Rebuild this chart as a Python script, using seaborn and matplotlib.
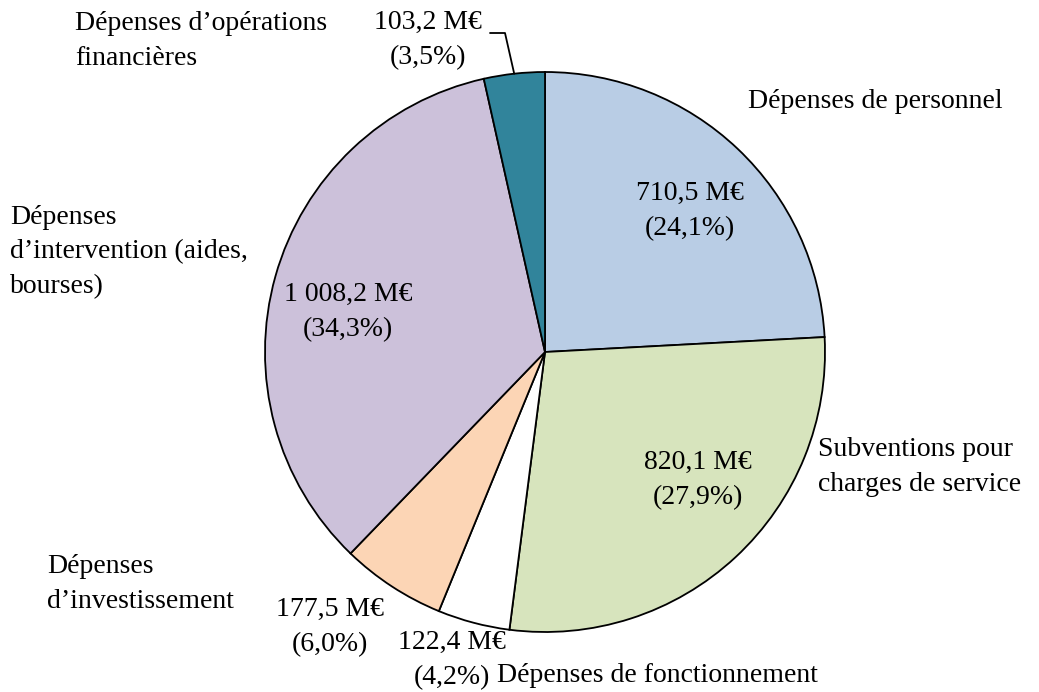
import numpy as np
import matplotlib
matplotlib.use("Agg")
import matplotlib.pyplot as plt
import seaborn as sns

categories = ["Dépenses de personnel", "Subventions pour\ncharges de service",
              "Dépenses de fonctionnement", "Dépenses\nd’investissement",
              "Dépenses\nd’intervention (aides,\nbourses)", "Dépenses d’opérations\nfinancières"]
values = [710.5, 820.1, 122.4, 177.5, 1008.2, 103.2]
value_labels = ["710,5 M€", "820,1 M€", "122,4 M€", "177,5 M€", "1 008,2 M€", "103,2 M€"]
pct_labels = ["(24,1%)", "(27,9%)", "(4,2%)", "(6,0%)", "(34,3%)", "(3,5%)"]
colors = ["#B9CDE5", "#D7E4BD", "#FFFFFF", "#FCD5B5", "#CCC1DA", "#31849B"]

sns.set_theme(style="white")
plt.rcParams["font.family"] = ["Liberation Serif", "DejaVu Serif"]

W, H = 1039, 692
fig = plt.figure(figsize=(W / 100, H / 100), dpi=100)
ax = fig.add_axes([0, 0, 1, 1])

def P(x, y):
    return (x, H - y)

cx, cy, R = 545, 352, 280
ax.pie(values, colors=colors, startangle=90, counterclock=False,
       center=P(cx, cy), radius=R, frame=True,
       wedgeprops=dict(edgecolor="black", linewidth=1.3))
ax.set_xlim(0, W)
ax.set_ylim(0, H)
ax.axis("off")

fs = 20
ls = 1.5
kw = dict(fontsize=fs, color="black", linespacing=ls)

# value labels (center positions)
val_pos = [(690, 211), (698, 480), (452, 660), (330, 627), (348, 312), (428, 40)]
for (x, y), v, p in zip(val_pos, value_labels, pct_labels):
    ax.text(*P(x, y), f"{v}\n{p}", ha="center", va="center", **kw)

# category labels (left, center-y)
cat_pos = [(748, 102), (818, 467), (497, 676), (47, 584), (10, 252), (75, 41)]
for (x, y), c in zip(cat_pos, categories):
    ax.text(*P(x, y), c, ha="left", va="center", **kw)

# leader line for the small financial slice
total = sum(values)
mid = np.deg2rad(90 + 180 * values[-1] / total)
ex, ey = cx + R * np.cos(mid), cy - R * np.sin(mid)
ax.plot([490, 505, ex], [H - 33, H - 33, H - ey], color="black", lw=1.3)

fig.savefig("out.png", dpi=100, facecolor="white")
